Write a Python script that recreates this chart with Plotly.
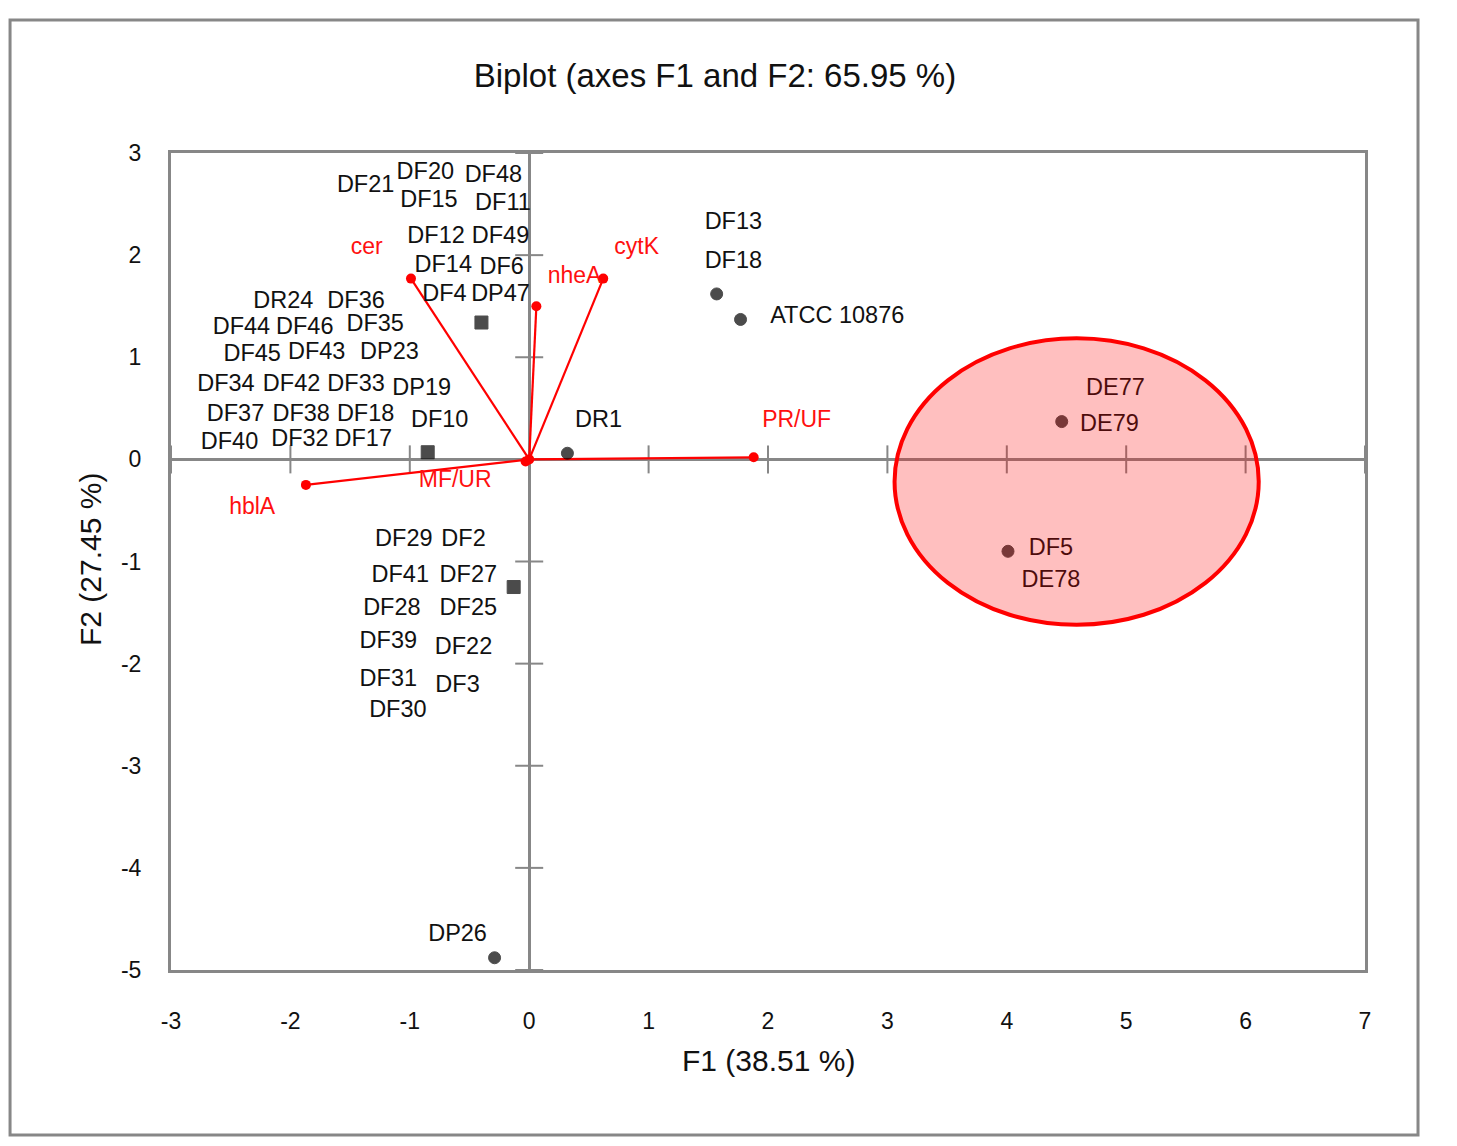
import plotly.graph_objects as go

# ---------------- data ----------------
# observations (points)
obs_x = [-0.40, -0.85, -0.13, 1.57, 1.77, 0.32, 4.46, 4.01, -0.29]
obs_y = [1.34, 0.07, -1.25, 1.62, 1.37, 0.06, 0.37, -0.90, -4.88]
obs_symbol = ["square", "square", "square", "circle", "circle", "circle", "circle", "circle", "circle"]

# variables (vectors)
var_names = ["cer", "nheA", "cytK", "PR/UF", "MF/UR", "hblA"]
var_x = [-0.99, 0.06, 0.62, 1.88, -0.03, -1.87]
var_y = [1.77, 1.50, 1.77, 0.02, -0.02, -0.25]

# observation labels and their placement (data coordinates)
obs_labels = ["DF21", "DF20", "DF48", "DF15", "DF11", "DF12", "DF49", "DF14", "DF6", "DF4", "DP47",
              "DR24", "DF36", "DF44", "DF46", "DF35", "DF45", "DF43", "DP23",
              "DF34", "DF42", "DF33", "DP19", "DF37", "DF38", "DF18", "DF10",
              "DF40", "DF32", "DF17",
              "DF29", "DF2", "DF41", "DF27", "DF28", "DF25", "DF39", "DF22", "DF31", "DF3", "DF30",
              "DP26", "DF13", "DF18", "ATCC 10876", "DR1", "DE77", "DE79", "DF5", "DE78"]
lab_x = [-1.37, -0.87, -0.30, -0.84, -0.22, -0.78, -0.24, -0.72, -0.23, -0.71, -0.24,
         -2.06, -1.45, -2.41, -1.88, -1.29, -2.32, -1.78, -1.17,
         -2.54, -1.99, -1.45, -0.90, -2.46, -1.91, -1.37, -0.75,
         -2.51, -1.92, -1.39,
         -1.05, -0.55, -1.08, -0.51, -1.15, -0.51, -1.18, -0.55, -1.18, -0.60, -1.10,
         -0.60, 1.71, 1.71, 2.58, 0.58, 4.91, 4.86, 4.37, 4.37]
lab_y = [2.68, 2.80, 2.77, 2.53, 2.50, 2.18, 2.18, 1.89, 1.87, 1.61, 1.61,
         1.54, 1.54, 1.29, 1.29, 1.31, 1.02, 1.04, 1.04,
         0.73, 0.73, 0.73, 0.69, 0.43, 0.43, 0.43, 0.37,
         0.16, 0.19, 0.19,
         -0.79, -0.79, -1.14, -1.14, -1.47, -1.47, -1.79, -1.85, -2.16, -2.22, -2.47,
         -4.66, 2.31, 1.93, 1.39, 0.37, 0.69, 0.34, -0.88, -1.19]

# variable label placement
var_lab_x = [-1.36, 0.38, 0.90, 2.24, -0.62, -2.32]
var_lab_y = [2.07, 1.78, 2.07, 0.37, -0.21, -0.48]

# highlighted group ellipse bounds
ell_x = [3.06, 6.11]
ell_y = [-1.62, 1.185]

x_ticks = [-3, -2, -1, 0, 1, 2, 3, 4, 5, 6, 7]
x_tick_text = ["-3", "-2", "-1", "0", "1", "2", "3", "4", "5", "6", "7"]
y_ticks = [-5, -4, -3, -2, -1, 0, 1, 2, 3]
y_tick_text = ["-5", "-4", "-3", "-2", "-1", "0", "1", "2", "3"]

GRAY = "#878787"
FONT = "Liberation Sans, Arial, sans-serif"

fig = go.Figure()

# cross ticks on the zero axes
fig.add_trace(go.Scatter(
    x=[t for t in x_ticks if t != 0], y=[0] * (len(x_ticks) - 1), mode="markers",
    marker=dict(symbol="line-ns", size=20, color=GRAY, line=dict(color=GRAY, width=2)),
    hoverinfo="skip", showlegend=False))
fig.add_trace(go.Scatter(
    x=[0] * (len(y_ticks) - 1), y=[t for t in y_ticks if t != 0], mode="markers",
    marker=dict(symbol="line-ew", size=20, color=GRAY, line=dict(color=GRAY, width=2)),
    hoverinfo="skip", showlegend=False))

# vectors
for vx, vy in zip(var_x, var_y):
    fig.add_trace(go.Scatter(x=[0, vx], y=[0, vy], mode="lines",
                             line=dict(color="#FF0000", width=2.2),
                             hoverinfo="skip", showlegend=False))
fig.add_trace(go.Scatter(x=var_x + [0], y=var_y + [0], mode="markers",
                         marker=dict(color="#FF0000", size=10),
                         hoverinfo="skip", showlegend=False))

# observations
fig.add_trace(go.Scatter(x=obs_x, y=obs_y, mode="markers",
                         marker=dict(color="black", size=[13 if s == "square" else 12 for s in obs_symbol],
                                     symbol=obs_symbol, line=dict(color="black", width=1)),
                         hoverinfo="skip", showlegend=False))

# observation labels
fig.add_trace(go.Scatter(x=lab_x, y=lab_y, mode="text", text=obs_labels,
                         textposition="middle center",
                         textfont=dict(family=FONT, size=23.5, color="#111111"),
                         hoverinfo="skip", showlegend=False))
# variable labels
fig.add_trace(go.Scatter(x=var_lab_x, y=var_lab_y, mode="text", text=var_names,
                         textposition="middle center",
                         textfont=dict(family=FONT, size=23, color="#FF1010"),
                         hoverinfo="skip", showlegend=False))

# ellipse
fig.add_shape(type="circle", xref="x", yref="y",
              x0=ell_x[0], x1=ell_x[1], y0=ell_y[0], y1=ell_y[1],
              line=dict(color="#FF0000", width=4),
              fillcolor="rgba(255,0,0,0.25)", layer="above")

# outer chart frame
fig.add_shape(type="rect", xref="paper", yref="paper",
              x0=-0.1348, x1=1.0444, y0=-0.2020, y1=1.1628,
              line=dict(color=GRAY, width=3), fillcolor="rgba(0,0,0,0)", layer="below")

# page body has an 8px margin; compensate so the plot area lands at the reference pixels
fig.update_layout(
    width=1441, height=1130,
    margin=dict(l=163, r=84, t=145, b=168),
    paper_bgcolor="white", plot_bgcolor="white",
    showlegend=False,
    title=dict(text="Biplot (axes F1 and F2: 65.95 %)", xref="paper", x=0.4556,
               xanchor="center", yref="container", y=1 - 67 / 1130, yanchor="middle",
               font=dict(family=FONT, size=33, color="#111111")),
    xaxis=dict(range=[-3, 7], tickvals=x_ticks, ticktext=x_tick_text, showgrid=False,
               zeroline=True, zerolinecolor=GRAY, zerolinewidth=3,
               showline=True, mirror=True, linecolor=GRAY, linewidth=3,
               ticks="outside", ticklen=28, tickcolor="rgba(0,0,0,0)",
               tickfont=dict(family=FONT, size=23, color="#111111")),
    yaxis=dict(range=[-5, 3], tickvals=y_ticks, ticktext=y_tick_text, showgrid=False,
               zeroline=True, zerolinecolor=GRAY, zerolinewidth=3,
               showline=True, mirror=True, linecolor=GRAY, linewidth=3,
               ticks="outside", ticklen=22, tickcolor="rgba(0,0,0,0)",
               tickfont=dict(family=FONT, size=23, color="#111111")),
    annotations=[
        dict(text="F1 (38.51 %)", xref="paper", yref="paper", x=0.5, y=(970 - 1060) / 817,
             xanchor="center", yanchor="middle", showarrow=False,
             font=dict(family=FONT, size=30, color="#111111")),
        dict(text="F2 (27.45 %)", xref="paper", yref="paper", x=(90 - 171) / 1194, y=(970 - 560) / 817,
             xanchor="center", yanchor="middle", showarrow=False, textangle=-90,
             font=dict(family=FONT, size=30, color="#111111")),
    ],
)

fig.write_html("out.html")
